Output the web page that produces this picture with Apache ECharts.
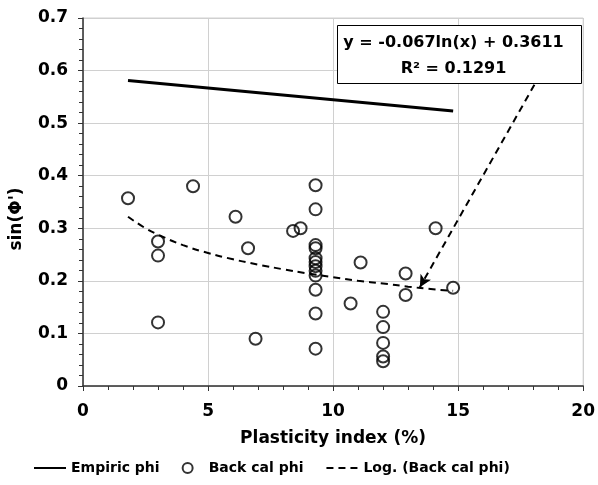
<!DOCTYPE html>
<html>
<head>
<meta charset="utf-8">
<script src="https://cdn.jsdelivr.net/npm/echarts@6/dist/echarts.min.js"></script>
<style>
  html, body { margin: 0; padding: 0; background: #fff; }
  #main { width: 598px; height: 485px; }
</style>
</head>
<body>
<div id="main"></div>
<script>
// back-calculated points (PI, sin phi')
var backPI = [1.8, 3.0, 3.0, 3.0, 4.4, 6.1, 6.6, 6.9, 8.4, 8.7,
  9.3, 9.3, 9.3, 9.3, 9.3, 9.3, 9.3, 9.3, 9.3, 9.3, 9.3, 9.3,
  10.7, 11.1, 12.0, 12.0, 12.0, 12.0, 12.0, 12.9, 12.9, 14.1, 14.8]
var backSin = [0.357, 0.275, 0.248, 0.121, 0.380, 0.322, 0.262, 0.090, 0.295, 0.300,
  0.382, 0.336, 0.268, 0.262, 0.243, 0.236, 0.228, 0.219, 0.210, 0.183, 0.138, 0.071,
  0.157, 0.235, 0.141, 0.112, 0.082, 0.056, 0.047, 0.214, 0.173, 0.300, 0.187]

// empiric line
var empPI = [1.8, 14.8]
var empSin = [0.581, 0.523]

// log trend
var trendPI = [1.8, 2.5, 3, 4, 5, 6, 7, 8, 9, 10, 11, 12, 13, 14, 14.8]
var trendSin = [0.322, 0.300, 0.288, 0.268, 0.253, 0.241, 0.231, 0.222, 0.214, 0.207, 0.200, 0.195, 0.189, 0.184, 0.181]

// arrow from the equation box to the curve
var arrowFrom = [18.05, 0.573]
var arrowTo = [13.47, 0.188]

var eqLine1 = 'y = -0.067ln(x) + 0.3611'
var eqLine2 = 'R² = 0.1291'

function pairs (xs, ys) {
  return xs.map(function (x, i) { return [x, ys[i]] })
}

var font = '"DejaVu Sans", sans-serif'
var myChart = echarts.init(document.getElementById('main'))

var option = {
  animation: false,
  textStyle: { fontFamily: font },
  grid: {
    left: 83, right: 12, top: 18, bottom: 99,
    show: true, borderColor: '#d0d0d0', borderWidth: 1
  },
  xAxis: {
    type: 'value', min: 0, max: 20, interval: 5,
    name: 'Plasticity index (%)', nameLocation: 'middle', nameGap: 44,
    nameTextStyle: { fontSize: 17, fontWeight: 'bold', color: '#000' },
    axisLine: { lineStyle: { color: '#333', width: 1.5 } },
    axisTick: { show: true, length: 5, lineStyle: { color: '#333' } },
    minorTick: { show: true, splitNumber: 5, length: 4, lineStyle: { color: '#333' } },
    splitLine: { lineStyle: { color: '#d0d0d0' } },
    axisLabel: { fontSize: 17, fontWeight: 'bold', color: '#000', margin: 17 }
  },
  yAxis: {
    type: 'value', min: 0, max: 0.7, interval: 0.1,
    name: "sin(Φ')", nameLocation: 'middle', nameGap: 58,
    nameTextStyle: { fontSize: 17, fontWeight: 'bold', color: '#000', padding: [0, 34, 0, 0] },
    axisLine: { show: true, lineStyle: { color: '#333', width: 1.5 } },
    axisTick: { show: true, length: 5, lineStyle: { color: '#333' } },
    minorTick: { show: true, splitNumber: 5, length: 4, lineStyle: { color: '#333' } },
    splitLine: { lineStyle: { color: '#d0d0d0' } },
    axisLabel: { fontSize: 17, fontWeight: 'bold', color: '#000', margin: 15 }
  },
  legend: {
    top: 456, left: 28,
    itemWidth: 32, itemHeight: 10, itemGap: 22,
    textStyle: { fontSize: 14, fontWeight: 'bold', color: '#000', fontFamily: font },
    data: [
      { name: 'Empiric phi', itemStyle: { opacity: 0 } },
      { name: 'Back cal phi' },
      { name: 'Log. (Back cal phi)', itemStyle: { opacity: 0 } }
    ]
  },
  series: [
    {
      name: 'Empiric phi',
      type: 'line',
      data: pairs(empPI, empSin),
      symbol: 'none',
      lineStyle: { color: '#000', width: 3 },
      itemStyle: { color: '#000' }
    },
    {
      name: 'Back cal phi',
      type: 'scatter',
      data: pairs(backPI, backSin),
      symbol: 'circle',
      symbolSize: 12,
      itemStyle: { color: 'rgba(255,255,255,0)', borderColor: '#000', borderWidth: 2 }
    },
    {
      name: 'Log. (Back cal phi)',
      type: 'line',
      data: pairs(trendPI, trendSin),
      smooth: true,
      symbol: 'none',
      lineStyle: { color: '#000', width: 2, type: [7, 5] },
      itemStyle: { color: '#000' },
      markLine: {
        silent: true,
        symbol: ['none', 'arrow'],
        symbolSize: [9, 12],
        label: { show: false },
        lineStyle: { color: '#000', width: 2, type: [7, 5] },
        data: [[{ coord: arrowFrom }, { coord: arrowTo }]]
      }
    }
  ],
  graphic: [{
    type: 'group',
    left: 337, top: 25, z: 100,
    children: [
      {
        type: 'rect', z: 100,
        shape: { x: 0, y: 0, width: 244, height: 58 },
        style: { fill: '#fff', stroke: '#000', lineWidth: 1 }
      },
      {
        type: 'text', x: 116, y: 17, z: 101,
        style: { text: eqLine1, fill: '#000', font: 'bold 16px ' + font, textAlign: 'center', textVerticalAlign: 'middle' }
      },
      {
        type: 'text', x: 116, y: 43, z: 101,
        style: { text: eqLine2, fill: '#000', font: 'bold 16px ' + font, textAlign: 'center', textVerticalAlign: 'middle' }
      }
    ]
  }]
}

myChart.setOption(option)
</script>
</body>
</html>
